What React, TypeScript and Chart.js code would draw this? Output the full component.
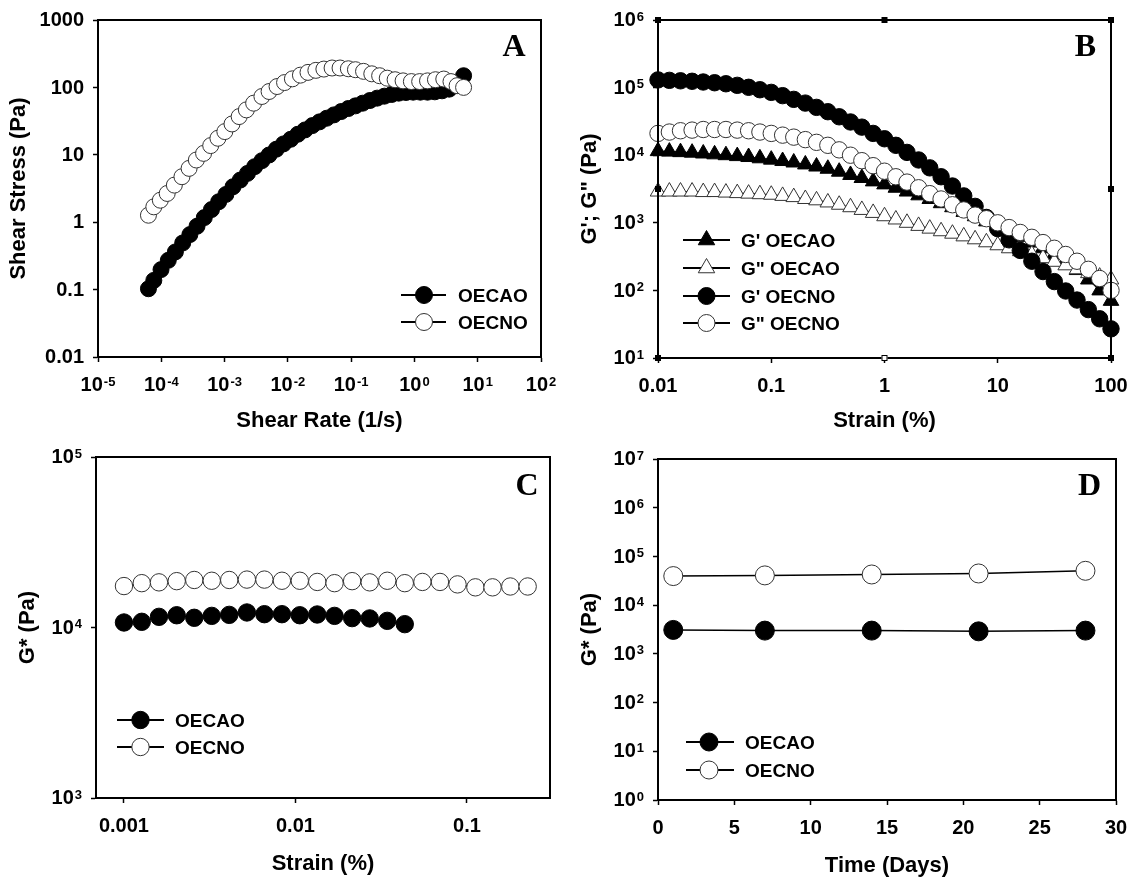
import React, { useEffect, useRef } from 'react';
import { Chart, registerables } from 'chart.js';

Chart.register(...registerables);

const FONT = '"Liberation Sans", Arial, Helvetica, sans-serif';
const SERIF = '"Liberation Serif", "Times New Roman", Times, serif';
const TICK_PX = 20;
const SUP_PX = 13;
const TITLE_PX = 22;
const LEGEND_PX = 19;

// ---------- Panel A : flow curve ----------
const A_RATE_OECAO = [
  6.27e-5, 7.62e-5, 9.9e-5, 1.29e-4, 1.67e-4, 2.18e-4, 2.83e-4, 3.67e-4, 4.78e-4, 6.21e-4,
  8.07e-4, 1.05e-3, 1.36e-3, 1.77e-3, 2.3e-3, 2.99e-3, 3.89e-3, 5.05e-3, 6.56e-3, 8.53e-3,
  1.11e-2, 1.44e-2, 1.87e-2, 2.43e-2, 3.16e-2, 4.11e-2, 5.34e-2, 6.95e-2, 9.03e-2, 0.117,
  0.152, 0.198, 0.258, 0.335, 0.435, 0.565, 0.735, 0.955, 1.24, 1.61,
  2.1, 2.73, 3.54, 4.6, 5.98,
];
const A_STRESS_OECAO = [
  0.103, 0.137, 0.198, 0.272, 0.362, 0.492, 0.655, 0.871, 1.17, 1.54,
  2.01, 2.58, 3.36, 4.22, 5.3, 6.66, 8.18, 9.93, 12.1, 14.5,
  17.0, 20.2, 23.4, 27.1, 30.8, 34.9, 39.1, 43.8, 48.6, 53.2,
  58.3, 63.9, 69.3, 74.1, 78.5, 82.2, 84.1, 85.0, 85.0, 85.0,
  86.0, 89.0, 94.2, 109, 149,
];
const A_RATE_OECNO = [
  6.27e-5, 7.62e-5, 9.66e-5, 1.24e-4, 1.61e-4, 2.12e-4, 2.75e-4, 3.58e-4, 4.66e-4, 6.04e-4,
  7.85e-4, 1.01e-3, 1.31e-3, 1.7e-3, 2.21e-3, 2.88e-3, 3.89e-3, 5.05e-3, 6.75e-3, 8.87e-3,
  1.18e-2, 1.58e-2, 2.08e-2, 2.77e-2, 3.71e-2, 5.0e-2, 6.68e-2, 9.04e-2, 0.117, 0.157,
  0.212, 0.282, 0.372, 0.495, 0.662, 0.895, 1.21, 1.61, 2.15, 2.91,
  3.78, 4.72, 5.98,
];
const A_STRESS_OECNO = [
  1.27, 1.69, 2.12, 2.67, 3.55, 4.73, 6.29, 8.37, 10.5, 13.7,
  17.6, 22.1, 28.7, 36.9, 46.4, 58.3, 73.3, 86.9, 103, 118,
  134, 152, 167, 179, 187, 194, 194, 189, 183, 173,
  159, 149, 137, 130, 125, 122, 122, 125, 130, 133,
  122, 106, 100,
];
const A_X_TICKS = [1e-5, 1e-4, 1e-3, 1e-2, 1e-1, 1, 10, 100];
const A_X_EXPS = ['-5', '-4', '-3', '-2', '-1', '0', '1', '2'];
const A_Y_TICKS = [0.01, 0.1, 1, 10, 100, 1000];
const A_Y_LABELS = ['0.01', '0.1', '1', '10', '100', '1000'];

// ---------- Panel B : amplitude sweep ----------
const B_STRAIN = [
  0.01, 0.0126, 0.0158, 0.02, 0.0251, 0.0316, 0.0398, 0.0501, 0.0631, 0.0794,
  0.1, 0.126, 0.158, 0.2, 0.251, 0.316, 0.398, 0.501, 0.631, 0.794,
  1, 1.26, 1.58, 2, 2.51, 3.16, 3.98, 5.01, 6.31, 7.94,
  10, 12.6, 15.8, 20, 25.1, 31.6, 39.8, 50.1, 63.1, 79.4,
  100,
];
const B_GP_OECAO = [
  11500, 11300, 11100, 10900, 10600, 10300, 10000, 9700, 9400, 9000,
  8600, 8200, 7800, 7300, 6800, 6300, 5700, 5100, 4600, 4100,
  3700, 3300, 2900, 2550, 2250, 1950, 1700, 1450, 1250, 1050,
  890, 750, 620, 510, 420, 340, 270, 200, 145, 100,
  70,
];
const B_GPP_OECAO = [
  2900, 2900, 2900, 2900, 2850, 2850, 2800, 2750, 2700, 2650,
  2600, 2500, 2400, 2250, 2150, 2000, 1850, 1700, 1550, 1400,
  1250, 1120, 1000, 900, 820, 750, 690, 630, 570, 515,
  465, 420, 380, 340, 300, 265, 235, 205, 180, 160,
  145,
];
const B_GP_OECNO = [
  130000, 128000, 126000, 124000, 121000, 118000, 114000, 108000, 101000, 93000,
  85000, 76000, 67000, 59000, 51000, 44000, 37000, 31000, 26000, 21000,
  17500, 14000, 11000, 8500, 6500, 4800, 3500, 2500, 1750, 1200,
  820, 560, 390, 270, 190, 135, 98, 72, 52, 38,
  27,
];
const B_GPP_OECNO = [
  21000, 22000, 23000, 23500, 24000, 24000, 24000, 23500, 23000, 22000,
  21000, 19800, 18500, 17000, 15500, 14000, 12000, 10000, 8300, 7000,
  5800, 4800, 4000, 3300, 2700, 2250, 1850, 1550, 1300, 1150,
  1000, 850, 720, 610, 510, 420, 340, 270, 205, 150,
  100,
];
const B_X_TICKS = [0.01, 0.1, 1, 10, 100];
const B_X_LABELS = ['0.01', '0.1', '1', '10', '100'];
const B_Y_TICKS = [10, 100, 1e3, 1e4, 1e5, 1e6];
const B_Y_EXPS = ['1', '2', '3', '4', '5', '6'];

// ---------- Panel C : G* vs strain ----------
const C_STRAIN = [
  0.001, 0.00127, 0.0016, 0.00203, 0.00257, 0.00325, 0.00411, 0.00521, 0.00659, 0.00834,
  0.0106, 0.0134, 0.0169, 0.0214, 0.0271, 0.0343, 0.0434, 0.055, 0.0696, 0.0881,
  0.112, 0.141, 0.179, 0.226,
];
const C_STRAIN_OECAO = [
  0.001, 0.00127, 0.0016, 0.00203, 0.00257, 0.00325, 0.00411, 0.00521, 0.00659, 0.00834,
  0.0106, 0.0134, 0.0169, 0.0214, 0.0271, 0.0343, 0.0434,
];
const C_GSTAR_OECAO = [
  10700, 10800, 11550, 11800, 11400, 11700, 11860, 12250, 11970, 11970,
  11800, 11920, 11700, 11350, 11300, 10940, 10460,
];
const C_GSTAR_OECNO = [
  17500, 18200, 18400, 18700, 19000, 18800, 19000, 19100, 19100, 18800,
  18800, 18500, 18200, 18700, 18400, 18800, 18200, 18500, 18500, 17900,
  17200, 17200, 17400, 17400,
];
const C_X_TICKS = [0.001, 0.01, 0.1];
const C_X_LABELS = ['0.001', '0.01', '0.1'];
const C_Y_TICKS = [1e3, 1e4, 1e5];
const C_Y_EXPS = ['3', '4', '5'];

// ---------- Panel D : G* vs time ----------
const D_DAYS = [1, 7, 14, 21, 28];
const D_GSTAR_OECAO = [3100, 3000, 3000, 2900, 3000];
const D_GSTAR_OECNO = [39500, 40800, 42600, 44700, 50700];
const D_X_TICKS = [0, 5, 10, 15, 20, 25, 30];
const D_Y_TICKS = [1, 10, 100, 1e3, 1e4, 1e5, 1e6, 1e7];
const D_Y_EXPS = ['0', '1', '2', '3', '4', '5', '6', '7'];

type TickDef = { v: number; base: string; exp?: string };
type Marker = { style: 'circle' | 'triangle'; filled: boolean; r: number };
type LegendItem = { label: string; marker: Marker };

interface PanelCfg {
  left: number; top: number; width: number; height: number;
  area: { l: number; r: number; t: number; b: number };
  xType: 'logarithmic' | 'linear'; xMin: number; xMax: number; xTicks: TickDef[];
  yMin: number; yMax: number; yTicks: TickDef[];
  xTitle: string; yTitle: string; yTitleX: number; xTitleY: number;
  letter: string; letterX: number; letterY: number;
  legend: { x1: number; x2: number; xm: number; xt: number; ys: number[]; items: LegendItem[] };
  datasets: any[];
  squares?: boolean;
}

function series(xs: number[], ys: number[], label: string, m: Marker, order: number, lineWidth = 1.2) {
  return {
    label,
    data: xs.map((x, i) => ({ x, y: ys[i] })),
    showLine: true,
    borderColor: '#000',
    borderWidth: lineWidth,
    pointStyle: m.style,
    pointRadius: m.r,
    pointBackgroundColor: m.filled ? '#000' : '#fff',
    pointBorderColor: m.filled ? '#000' : '#333',
    pointBorderWidth: 1,
    tension: 0,
    clip: false,
    order,
  };
}

function drawPow(ctx: CanvasRenderingContext2D, base: string, exp: string | undefined, x: number, y: number, align: 'center' | 'right') {
  ctx.font = `bold ${TICK_PX}px ${FONT}`;
  const wb = ctx.measureText(base).width;
  let we = 0;
  if (exp) {
    ctx.font = `bold ${SUP_PX}px ${FONT}`;
    we = ctx.measureText(exp).width + 1;
  }
  const total = wb + we;
  const sx = align === 'center' ? x - total / 2 : x - total;
  ctx.textAlign = 'left';
  ctx.textBaseline = 'alphabetic';
  ctx.fillStyle = '#000';
  ctx.font = `bold ${TICK_PX}px ${FONT}`;
  ctx.fillText(base, sx, y + 7.1);
  if (exp) {
    ctx.font = `bold ${SUP_PX}px ${FONT}`;
    ctx.fillText(exp, sx + wb + 1, y + 1.5);
  }
}

function drawMarker(ctx: CanvasRenderingContext2D, m: Marker, x: number, y: number) {
  ctx.beginPath();
  if (m.style === 'circle') {
    ctx.arc(x, y, m.r, 0, Math.PI * 2);
  } else {
    for (let k = 0; k < 3; k++) {
      const a = (k * 2 * Math.PI) / 3;
      const px = x + Math.sin(a) * m.r;
      const py = y - Math.cos(a) * m.r;
      if (k === 0) ctx.moveTo(px, py); else ctx.lineTo(px, py);
    }
    ctx.closePath();
  }
  ctx.fillStyle = m.filled ? '#000' : '#fff';
  ctx.fill();
  ctx.lineWidth = 1;
  ctx.strokeStyle = m.filled ? '#000' : '#333';
  ctx.stroke();
}

function decor(cfg: PanelCfg) {
  return {
    id: 'decor',
    afterDraw(chart: any) {
      const ctx: CanvasRenderingContext2D = chart.ctx;
      const a = chart.chartArea;
      const xs = chart.scales.x;
      const ys = chart.scales.y;
      ctx.save();
      ctx.strokeStyle = '#000';
      ctx.lineWidth = 2;
      ctx.strokeRect(a.left, a.top, a.right - a.left, a.bottom - a.top);
      if (cfg.squares) {
        const pts: [number, number, boolean][] = [
          [0.01, 1e6, true], [1, 1e6, true], [100, 1e6, true],
          [0.01, 3162, true], [100, 3162, true],
          [0.01, 10, true], [1, 10, false], [100, 10, true],
        ];
        pts.forEach(([vx, vy, f]) => {
          const px = xs.getPixelForValue(vx);
          const py = ys.getPixelForValue(vy);
          if (f) { ctx.fillStyle = '#000'; ctx.fillRect(px - 3, py - 3, 6, 6); }
          else { ctx.fillStyle = '#fff'; ctx.fillRect(px - 3, py - 3, 6, 6); ctx.lineWidth = 1; ctx.strokeRect(px - 2.5, py - 2.5, 5, 5); }
        });
      }
      cfg.xTicks.forEach((t) => drawPow(ctx, t.base, t.exp, xs.getPixelForValue(t.v), a.bottom + 27, 'center'));
      cfg.yTicks.forEach((t) => drawPow(ctx, t.base, t.exp, a.left - 14, ys.getPixelForValue(t.v) - 1, 'right'));
      ctx.fillStyle = '#000';
      ctx.font = `bold ${TITLE_PX}px ${FONT}`;
      ctx.textAlign = 'center';
      ctx.textBaseline = 'middle';
      ctx.fillText(cfg.xTitle, (a.left + a.right) / 2, cfg.xTitleY);
      ctx.save();
      ctx.translate(cfg.yTitleX, (a.top + a.bottom) / 2);
      ctx.rotate(-Math.PI / 2);
      ctx.fillText(cfg.yTitle, 0, 0);
      ctx.restore();
      const L = cfg.legend;
      L.items.forEach((it, i) => {
        const y = L.ys[i];
        ctx.strokeStyle = '#000';
        ctx.lineWidth = 2;
        ctx.beginPath();
        ctx.moveTo(L.x1, y);
        ctx.lineTo(L.x2, y);
        ctx.stroke();
        drawMarker(ctx, it.marker, L.xm, y);
        ctx.fillStyle = '#000';
        ctx.font = `bold ${LEGEND_PX}px ${FONT}`;
        ctx.textAlign = 'left';
        ctx.textBaseline = 'alphabetic';
        ctx.fillText(it.label, L.xt, y + 7);
      });
      ctx.fillStyle = '#000';
      ctx.font = `bold 32px ${SERIF}`;
      ctx.textAlign = 'center';
      ctx.textBaseline = 'alphabetic';
      ctx.fillText(cfg.letter, cfg.letterX, cfg.letterY);
      ctx.restore();
    },
  };
}

function axisOpts(type: string, min: number, max: number, ticks: TickDef[], fit: (s: any) => void) {
  return {
    type,
    min,
    max,
    afterBuildTicks: (s: any) => { s.ticks = ticks.map((t) => ({ value: t.v })); },
    afterFit: fit,
    ticks: { display: false },
    grid: { display: true, drawOnChartArea: false, drawTicks: true, tickLength: 5, tickColor: '#000', tickWidth: 1.5 },
    border: { display: true, color: '#000', width: 2 },
  };
}

function Panel({ cfg }: { cfg: PanelCfg }) {
  const ref = useRef<HTMLCanvasElement>(null);
  useEffect(() => {
    const chart = new Chart(ref.current as HTMLCanvasElement, {
      type: 'scatter',
      data: { datasets: cfg.datasets },
      options: {
        animation: false,
        responsive: false,
        events: [],
        layout: { autoPadding: false, padding: { left: 0, top: cfg.area.t, right: cfg.width - cfg.area.r, bottom: 0 } },
        plugins: { legend: { display: false }, tooltip: { enabled: false }, title: { display: false } },
        scales: {
          x: axisOpts(cfg.xType, cfg.xMin, cfg.xMax, cfg.xTicks, (s: any) => { s.height = cfg.height - cfg.area.b; }),
          y: axisOpts('logarithmic', cfg.yMin, cfg.yMax, cfg.yTicks, (s: any) => { s.width = cfg.area.l; }),
        },
      } as any,
      plugins: [decor(cfg)],
    });
    return () => chart.destroy();
  }, []);
  return (
    <canvas
      ref={ref}
      width={cfg.width}
      height={cfg.height}
      style={{ position: 'absolute', left: cfg.left, top: cfg.top, width: cfg.width, height: cfg.height }}
    />
  );
}

const filledC = (r: number): Marker => ({ style: 'circle', filled: true, r });
const openC = (r: number): Marker => ({ style: 'circle', filled: false, r });
const filledT = (r: number): Marker => ({ style: 'triangle', filled: true, r });
const openT = (r: number): Marker => ({ style: 'triangle', filled: false, r });

const panelA: PanelCfg = {
  left: 0, top: 0, width: 566, height: 450,
  area: { l: 98, r: 541, t: 20, b: 357 },
  xType: 'logarithmic', xMin: 1e-5, xMax: 100,
  xTicks: A_X_TICKS.map((v, i) => ({ v, base: '10', exp: A_X_EXPS[i] })),
  yMin: 0.01, yMax: 1000,
  yTicks: A_Y_TICKS.map((v, i) => ({ v, base: A_Y_LABELS[i] })),
  xTitle: 'Shear Rate (1/s)', yTitle: 'Shear Stress (Pa)', yTitleX: 19, xTitleY: 421,
  letter: 'A', letterX: 514, letterY: 56,
  legend: { x1: 401, x2: 446, xm: 424, xt: 458, ys: [295, 322], items: [
    { label: 'OECAO', marker: filledC(8.5) },
    { label: 'OECNO', marker: openC(8.5) },
  ] },
  datasets: [
    series(A_RATE_OECAO, A_STRESS_OECAO, 'OECAO', filledC(8), 1, 10),
    series(A_RATE_OECNO, A_STRESS_OECNO, 'OECNO', openC(8), 0),
  ],
};

const panelB: PanelCfg = {
  left: 566, top: 0, width: 566, height: 450,
  area: { l: 92, r: 545, t: 20, b: 358 },
  xType: 'logarithmic', xMin: 0.01, xMax: 100,
  xTicks: B_X_TICKS.map((v, i) => ({ v, base: B_X_LABELS[i] })),
  yMin: 10, yMax: 1e6,
  yTicks: B_Y_TICKS.map((v, i) => ({ v, base: '10', exp: B_Y_EXPS[i] })),
  xTitle: 'Strain (%)', yTitle: 'G\'; G" (Pa)', yTitleX: 24, xTitleY: 421,
  letter: 'B', letterX: 519.5, letterY: 56,
  legend: { x1: 117, x2: 164, xm: 140.5, xt: 175, ys: [240, 268, 296, 323], items: [
    { label: "G' OECAO", marker: filledT(9.5) },
    { label: 'G" OECAO', marker: openT(9.5) },
    { label: "G' OECNO", marker: filledC(8.5) },
    { label: 'G" OECNO', marker: openC(8.5) },
  ] },
  datasets: [
    series(B_STRAIN, B_GP_OECAO, "G' OECAO", filledT(9), 3),
    series(B_STRAIN, B_GPP_OECAO, 'G" OECAO', openT(9), 2),
    series(B_STRAIN, B_GP_OECNO, "G' OECNO", filledC(8.2), 1),
    series(B_STRAIN, B_GPP_OECNO, 'G" OECNO', openC(8.2), 0),
  ],
  squares: true,
};

const panelC: PanelCfg = {
  left: 0, top: 428, width: 566, height: 450,
  area: { l: 96, r: 550, t: 29, b: 370 },
  xType: 'logarithmic', xMin: 6.87e-4, xMax: 0.305,
  xTicks: C_X_TICKS.map((v, i) => ({ v, base: C_X_LABELS[i] })),
  yMin: 1e3, yMax: 1e5,
  yTicks: C_Y_TICKS.map((v, i) => ({ v, base: '10', exp: C_Y_EXPS[i] })),
  xTitle: 'Strain (%)', yTitle: 'G* (Pa)', yTitleX: 28, xTitleY: 436,
  letter: 'C', letterX: 527, letterY: 67,
  legend: { x1: 117, x2: 164, xm: 140.5, xt: 175, ys: [292, 319], items: [
    { label: 'OECAO', marker: filledC(8.7) },
    { label: 'OECNO', marker: openC(8.7) },
  ] },
  datasets: [
    series(C_STRAIN_OECAO, C_GSTAR_OECAO, 'OECAO', filledC(8.7), 1),
    series(C_STRAIN, C_GSTAR_OECNO, 'OECNO', openC(8.7), 0),
  ],
};

const panelD: PanelCfg = {
  left: 566, top: 428, width: 566, height: 450,
  area: { l: 92, r: 550, t: 31, b: 372 },
  xType: 'linear', xMin: 0, xMax: 30,
  xTicks: D_X_TICKS.map((v) => ({ v, base: String(v) })),
  yMin: 1, yMax: 1e7,
  yTicks: D_Y_TICKS.map((v, i) => ({ v, base: '10', exp: D_Y_EXPS[i] })),
  xTitle: 'Time (Days)', yTitle: 'G* (Pa)', yTitleX: 24, xTitleY: 438,
  letter: 'D', letterX: 523.5, letterY: 67,
  legend: { x1: 120, x2: 168, xm: 143, xt: 179, ys: [314, 342], items: [
    { label: 'OECAO', marker: filledC(9) },
    { label: 'OECNO', marker: openC(9) },
  ] },
  datasets: [
    series(D_DAYS, D_GSTAR_OECAO, 'OECAO', filledC(9.5), 1, 1.5),
    series(D_DAYS, D_GSTAR_OECNO, 'OECNO', openC(9.5), 0, 1.5),
  ],
};

export default function App() {
  return (
    <div style={{ position: 'absolute', left: 0, top: 0, width: 1132, height: 878, background: '#fff', overflow: 'hidden' }}>
      <Panel cfg={panelA} />
      <Panel cfg={panelB} />
      <Panel cfg={panelC} />
      <Panel cfg={panelD} />
    </div>
  );
}
